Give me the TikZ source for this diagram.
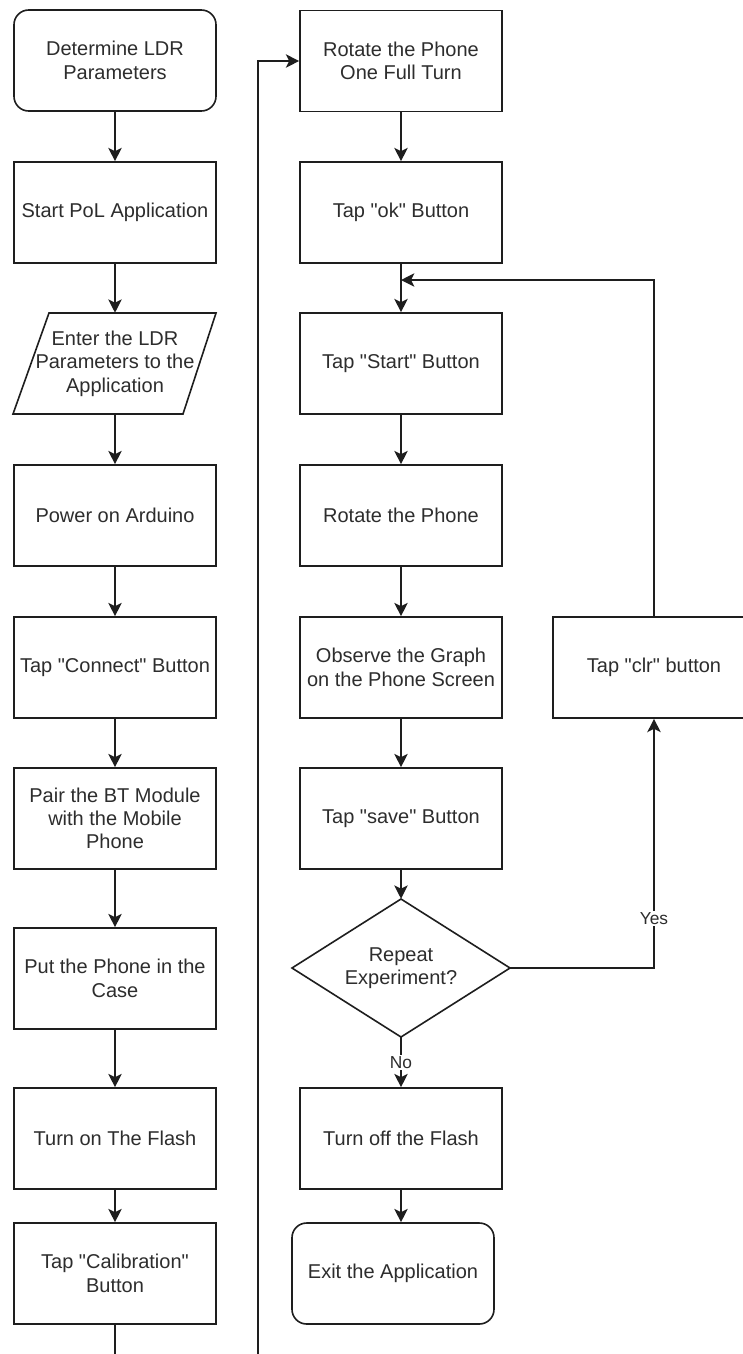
\documentclass[tikz,border=0pt]{standalone}
\usepackage{fontspec}
\setmainfont{Liberation Sans}[Ligatures=TeXOff]
\usetikzlibrary{arrows.meta,calc}
\definecolor{ink}{RGB}{30,30,30}
\definecolor{txt}{RGB}{45,45,45}
\tikzset{
  base/.style={draw=ink, line width=1.2pt, fill=white, text=txt, align=center,
    font=\fontsize{15}{17.5}\selectfont, inner sep=0pt,
    minimum width=151.5pt, minimum height=75.75pt},
  stepbox/.style={base, rectangle},
  termbox/.style={base, rectangle, rounded corners=11pt},
  textonly/.style={draw=none, fill=none, text=txt, align=center,
    font=\fontsize{15}{17.5}\selectfont, inner sep=0pt,
    minimum width=151.5pt, minimum height=75.75pt},
  arr/.style={draw=ink, line width=1.2pt, -{Stealth[length=10pt,width=10pt,inset=2.5pt]}},
  lbl/.style={fill=white, text=txt, font=\fontsize{13}{15}\selectfont, inner sep=1pt}
}
\begin{document}
\begin{tikzpicture}[x=0.75pt, y=-0.75pt]
\useasboundingbox (0,0) rectangle (743,1354);
\clip (0,0) rectangle (743,1354);
\fill[white] (0,0) rectangle (743,1354);

% left column
\node[termbox] (start) at (115,60.5) {Determine LDR\\Parameters};
\node[stepbox] (pol) at (115,212.5) {Start PoL Application};
\draw[draw=ink, line width=1.2pt, fill=white] (13,414) -- (183,414) -- (216,313) -- (49,313) -- cycle;
\node[textonly] (enter) at (115,363.5) {Enter the LDR\\Parameters to the\\Application};
\node[stepbox] (power) at (115,515.5) {Power on Arduino};
\node[stepbox] (connect) at (115,667.5) {Tap "Connect" Button};
\node[stepbox] (pair) at (115,818.5) {Pair the BT Module\\with the Mobile\\Phone};
\node[stepbox] (put) at (115,978.5) {Put the Phone in the\\Case};
\node[stepbox] (flashon) at (115,1138.5) {Turn on The Flash};
\node[stepbox] (calib) at (115,1273.5) {Tap "Calibration"\\Button};

% right column
\node[stepbox] (rotfull) at (401,61) {Rotate the Phone\\One Full Turn};
\node[stepbox] (ok) at (401,212.5) {Tap "ok" Button};
\node[stepbox] (startbtn) at (401,363.5) {Tap "Start" Button};
\node[stepbox] (rot) at (401,515.5) {Rotate the Phone};
\node[stepbox] (observe) at (401,667.5) {Observe the Graph\\on the Phone Screen};
\node[stepbox] (save) at (401,818.5) {Tap "save" Button};
\draw[draw=ink, line width=1.2pt, fill=white] (401,899) -- (510,968) -- (401,1037) -- (292,968) -- cycle;
\node[textonly, minimum width=163.5pt, minimum height=103.5pt] (dia) at (401,968) {Repeat\\Experiment?};
\node[stepbox] (flashoff) at (401,1138.5) {Turn off the Flash};
\node[termbox] (exit) at (393,1273.5) {Exit the Application};
\node[stepbox] (clr) at (654,667.5) {Tap "clr" button};

% connectors left
\draw[arr] (start) -- (pol);
\draw[arr] (pol) -- (enter);
\draw[arr] (enter) -- (power);
\draw[arr] (power) -- (connect);
\draw[arr] (connect) -- (pair);
\draw[arr] (pair) -- (put);
\draw[arr] (put) -- (flashon);
\draw[arr] (flashon) -- (calib);
\coordinate (lb1) at (115,1380);
\coordinate (lb2) at (258,1380);
\coordinate (lt) at (258,61);
\draw[arr] (calib.south) -- (lb1) -- (lb2) -- (lt) -- (rotfull.west);

% connectors right
\draw[arr] (rotfull) -- (ok);
\draw[arr] (ok) -- (startbtn);
\draw[arr] (startbtn) -- (rot);
\draw[arr] (rot) -- (observe);
\draw[arr] (observe) -- (save);
\draw[arr] (save.south) -- (dia.north);
\draw[arr] (dia.south) -- node[lbl, pos=0.5] {No} (flashoff.north);
\draw[arr] (flashoff.south) -- (flashoff.south |- exit.north);
\coordinate (yesc) at (654,968);
\draw[arr] (dia.east) -- (yesc) -- node[lbl, pos=0.2] {Yes} (clr.south);
\coordinate (merge) at (401,280);
\coordinate (mr) at (654,280);
\draw[arr] (clr.north) -- (mr) -- (merge);
\end{tikzpicture}
\end{document}
